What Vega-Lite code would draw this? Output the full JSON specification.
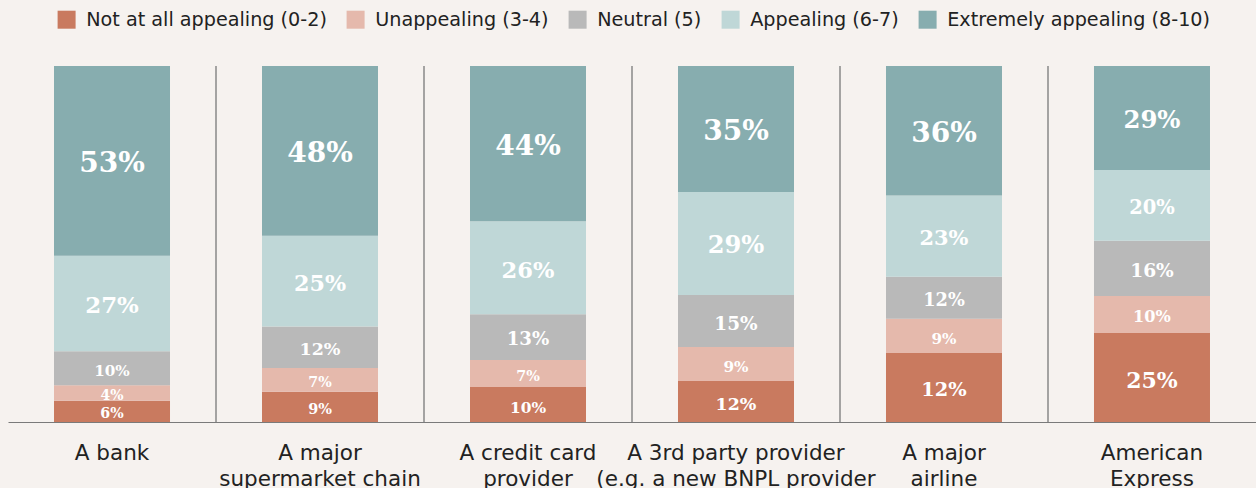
{
  "$schema": "https://vega.github.io/schema/vega-lite/v6.json",
  "width": 1248,
  "height": 356,
  "autosize": "none",
  "padding": {"left": 8, "top": 66, "right": 0, "bottom": 66},
  "background": "#f6f2ef",
  "config": {"view": {"stroke": null}, "font": "DejaVu Sans"},
  "datasets": {
    "ratings": [
      {"provider": "A bank", "rating": "Not at all appealing (0-2)", "r": 1, "value": 6.0, "label": "6%"},
      {"provider": "A bank", "rating": "Unappealing (3-4)", "r": 2, "value": 4.3, "label": "4%"},
      {"provider": "A bank", "rating": "Neutral (5)", "r": 3, "value": 9.6, "label": "10%"},
      {"provider": "A bank", "rating": "Appealing (6-7)", "r": 4, "value": 26.8, "label": "27%"},
      {"provider": "A bank", "rating": "Extremely appealing (8-10)", "r": 5, "value": 53.3, "label": "53%"},
      {"provider": "A major\nsupermarket chain", "rating": "Not at all appealing (0-2)", "r": 1, "value": 8.5, "label": "9%"},
      {"provider": "A major\nsupermarket chain", "rating": "Unappealing (3-4)", "r": 2, "value": 6.7, "label": "7%"},
      {"provider": "A major\nsupermarket chain", "rating": "Neutral (5)", "r": 3, "value": 11.6, "label": "12%"},
      {"provider": "A major\nsupermarket chain", "rating": "Appealing (6-7)", "r": 4, "value": 25.5, "label": "25%"},
      {"provider": "A major\nsupermarket chain", "rating": "Extremely appealing (8-10)", "r": 5, "value": 47.7, "label": "48%"},
      {"provider": "A credit card\nprovider", "rating": "Not at all appealing (0-2)", "r": 1, "value": 9.8, "label": "10%"},
      {"provider": "A credit card\nprovider", "rating": "Unappealing (3-4)", "r": 2, "value": 7.6, "label": "7%"},
      {"provider": "A credit card\nprovider", "rating": "Neutral (5)", "r": 3, "value": 12.9, "label": "13%"},
      {"provider": "A credit card\nprovider", "rating": "Appealing (6-7)", "r": 4, "value": 26.1, "label": "26%"},
      {"provider": "A credit card\nprovider", "rating": "Extremely appealing (8-10)", "r": 5, "value": 43.6, "label": "44%"},
      {"provider": "A 3rd party provider\n(e.g. a new BNPL provider", "rating": "Not at all appealing (0-2)", "r": 1, "value": 11.5, "label": "12%"},
      {"provider": "A 3rd party provider\n(e.g. a new BNPL provider", "rating": "Unappealing (3-4)", "r": 2, "value": 9.6, "label": "9%"},
      {"provider": "A 3rd party provider\n(e.g. a new BNPL provider", "rating": "Neutral (5)", "r": 3, "value": 14.6, "label": "15%"},
      {"provider": "A 3rd party provider\n(e.g. a new BNPL provider", "rating": "Appealing (6-7)", "r": 4, "value": 28.9, "label": "29%"},
      {"provider": "A 3rd party provider\n(e.g. a new BNPL provider", "rating": "Extremely appealing (8-10)", "r": 5, "value": 35.4, "label": "35%"},
      {"provider": "A major\nairline", "rating": "Not at all appealing (0-2)", "r": 1, "value": 19.4, "label": "12%"},
      {"provider": "A major\nairline", "rating": "Unappealing (3-4)", "r": 2, "value": 9.6, "label": "9%"},
      {"provider": "A major\nairline", "rating": "Neutral (5)", "r": 3, "value": 11.8, "label": "12%"},
      {"provider": "A major\nairline", "rating": "Appealing (6-7)", "r": 4, "value": 22.8, "label": "23%"},
      {"provider": "A major\nairline", "rating": "Extremely appealing (8-10)", "r": 5, "value": 36.4, "label": "36%"},
      {"provider": "American\nExpress", "rating": "Not at all appealing (0-2)", "r": 1, "value": 25.0, "label": "25%"},
      {"provider": "American\nExpress", "rating": "Unappealing (3-4)", "r": 2, "value": 10.4, "label": "10%"},
      {"provider": "American\nExpress", "rating": "Neutral (5)", "r": 3, "value": 15.5, "label": "16%"},
      {"provider": "American\nExpress", "rating": "Appealing (6-7)", "r": 4, "value": 19.9, "label": "20%"},
      {"provider": "American\nExpress", "rating": "Extremely appealing (8-10)", "r": 5, "value": 29.2, "label": "29%"}
    ],
    "separators": [
      {"provider": "A major\nsupermarket chain"},
      {"provider": "A credit card\nprovider"},
      {"provider": "A 3rd party provider\n(e.g. a new BNPL provider"},
      {"provider": "A major\nairline"},
      {"provider": "American\nExpress"}
    ]
  },
  "resolve": {"scale": {"x": "independent"}, "axis": {"x": "independent"}},
  "layer": [
    {
      "data": {"name": "separators"},
      "mark": {"type": "rule", "color": "#6e6e6e", "strokeWidth": 1.2},
      "encoding": {
        "x": {
          "field": "provider",
          "type": "nominal",
          "bandPosition": 0,
          "scale": {
            "domain": ["A bank", "A major\nsupermarket chain", "A credit card\nprovider", "A 3rd party provider\n(e.g. a new BNPL provider", "A major\nairline", "American\nExpress"],
            "paddingInner": 0,
            "paddingOuter": 0
          },
          "axis": null
        },
        "y": {"datum": 0, "type": "quantitative", "scale": {"domain": [0, 100]}, "axis": null},
        "y2": {"datum": 100}
      }
    },
    {
      "data": {"name": "ratings"},
      "transform": [
        {"stack": "value", "groupby": ["provider"], "sort": [{"field": "r"}], "as": ["y0", "y1"]}
      ],
      "encoding": {
        "x": {
          "field": "provider",
          "type": "nominal",
          "scale": {
            "domain": ["A bank", "A major\nsupermarket chain", "A credit card\nprovider", "A 3rd party provider\n(e.g. a new BNPL provider", "A major\nairline", "American\nExpress"],
            "paddingInner": 0.4423,
            "paddingOuter": 0.2212
          },
          "axis": {
            "title": null,
            "labelAngle": 0,
            "labelExpr": "split(datum.label, '\\n')",
            "labelFont": "DejaVu Sans",
            "labelFontSize": 21.5,
            "labelLineHeight": 26,
            "labelColor": "#222222",
            "labelPadding": 20,
            "labelLimit": 400,
            "ticks": false,
            "domainColor": "#7a7a7a",
            "domainWidth": 1.2
          }
        }
      },
      "layer": [
        {
          "mark": {"type": "bar"},
          "encoding": {
            "y": {"field": "y0", "type": "quantitative", "scale": {"domain": [0, 100]}, "axis": null},
            "y2": {"field": "y1"},
            "color": {
              "field": "rating",
              "type": "nominal",
              "scale": {
                "domain": ["Not at all appealing (0-2)", "Unappealing (3-4)", "Neutral (5)", "Appealing (6-7)", "Extremely appealing (8-10)"],
                "range": ["#c97a5f", "#e5b9ac", "#b9b9b9", "#bfd7d7", "#87adaf"]
              },
              "legend": {
                "title": null,
                "orient": "none",
                "legendX": 49,
                "legendY": -56,
                "direction": "horizontal",
                "padding": 0,
                "symbolType": "square",
                "symbolSize": 324,
                "symbolStrokeWidth": 0,
                "symbolOpacity": 1,
                "labelFont": "DejaVu Sans",
                "labelFontSize": 19.2,
                "labelColor": "#222222",
                "labelOffset": 10,
                "columnPadding": 19,
                "labelLimit": 400
              }
            }
          }
        },
        {
          "transform": [
            {"fold": ["y0", "y1"], "as": ["k", "v"]},
            {"aggregate": [{"op": "mean", "field": "v", "as": "mid"}], "groupby": ["provider", "rating", "label", "value"]}
          ],
          "mark": {"type": "text", "font": "DejaVu Serif", "fontWeight": "bold", "color": "#ffffff", "align": "center", "baseline": "middle", "dy": 3},
          "encoding": {
            "y": {"field": "mid", "type": "quantitative", "scale": {"domain": [0, 100]}, "axis": null},
            "text": {"field": "label"},
            "size": {
              "field": "value",
              "type": "quantitative",
              "scale": {"domain": [4, 9, 12, 20, 27, 35, 53], "range": [14, 14.5, 18, 19.5, 23, 28, 28]},
              "legend": null
            }
          }
        }
      ]
    }
  ]
}
